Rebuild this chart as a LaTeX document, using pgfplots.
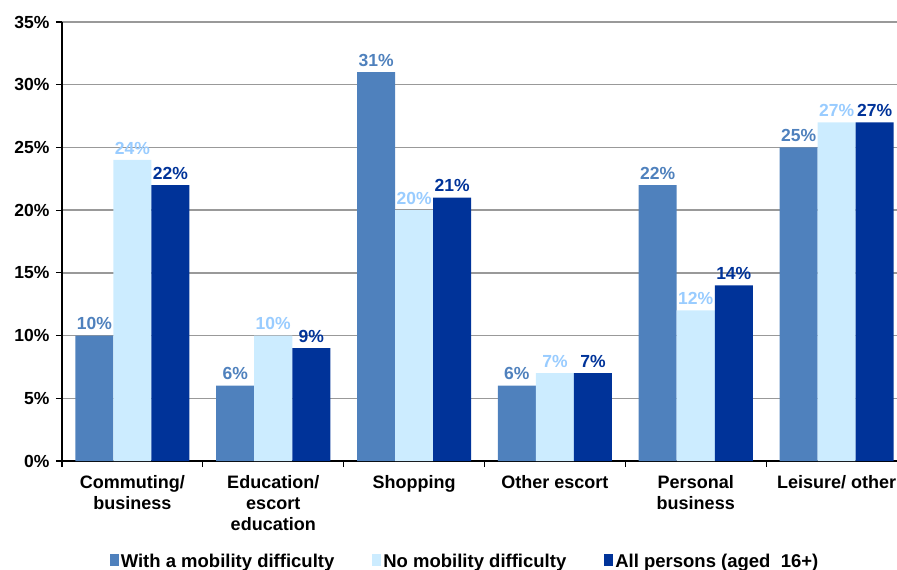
\documentclass[border=0pt]{standalone}
\usepackage{pgfplots}
\pgfplotsset{compat=1.18}
\usepackage{fontspec}
\setmainfont{Liberation Sans}
\definecolor{cA}{HTML}{4F81BD}
\definecolor{cB}{HTML}{CCECFF}
\definecolor{cBt}{HTML}{99CCFF}
\definecolor{cC}{HTML}{003399}
\definecolor{gridc}{HTML}{999999}
\begin{document}
\begin{tikzpicture}[font=\fontsize{17.5}{21}\selectfont\bfseries]
\begin{axis}[
  scale only axis, width=845pt, height=439pt,
  xmin=-0.5, xmax=5.5, ymin=0, ymax=35,
  axis x line*=bottom, axis y line*=left,
  axis line style={line width=1.6pt, black},
  ytick={0,5,...,35},
  yticklabel={\pgfmathprintnumber{\tick}\%},
  /pgf/number format/assume math mode=true,
  ymajorgrids, grid style={gridc, line width=1.3pt},
  xtick={0,...,5},
  xticklabels={{Commuting/\\business},{Education/\\escort\\education},{Shopping},{Other escort},{Personal\\business},{Leisure/ other}},
  xticklabel style={align=center, font=\fontsize{18}{21}\selectfont\bfseries, anchor=north, yshift=-5pt},
  major x tick style={draw=none},
  minor xtick={-0.5,0.5,...,5.5},
  tick align=outside,
  major tick length=6pt, minor tick length=6pt,
  every tick/.style={black, line width=1.2pt},
  yticklabel style={xshift=-3pt},
  ybar, bar width=0.27,
  legend columns=3,
  legend style={draw=none, at={(0.477,-0.228)}, anchor=center, font=\fontsize{18.5}{21}\selectfont\bfseries,
    /tikz/every even column/.append style={column sep=36pt}},
  legend image code/.code={\fill[#1] (0pt,-5pt) rectangle (9pt,7pt);},
  nodes near coords={\pgfmathprintnumber{\pgfplotspointmeta}\%},
  every node near coord/.append style={font=\fontsize{17.5}{21}\selectfont\bfseries, inner sep=5.5pt},
]
\addplot[fill=cA, draw=none, bar shift=-0.27, every node near coord/.append style={text=cA}] coordinates {(0,10) (1,6) (2,31) (3,6) (4,22) (5,25)};
\addplot[fill=cB, draw=none, bar shift=0, every node near coord/.append style={text=cBt}] coordinates {(0,24) (1,10) (2,20) (3,7) (4,12) (5,27)};
\addplot[fill=cC, draw=none, bar shift=0.27, every node near coord/.append style={text=cC}] coordinates {(0,22) (1,9) (2,21) (3,7) (4,14) (5,27)};
\legend{With a mobility difficulty, No mobility difficulty, All persons (aged\ \ 16+)}
\coordinate (O) at (rel axis cs:0,0);
\end{axis}
\pgfresetboundingbox
\useasboundingbox ([shift={(-62pt,-109pt)}]O) rectangle ([shift={(835pt,461pt)}]O);
\end{tikzpicture}
\end{document}
